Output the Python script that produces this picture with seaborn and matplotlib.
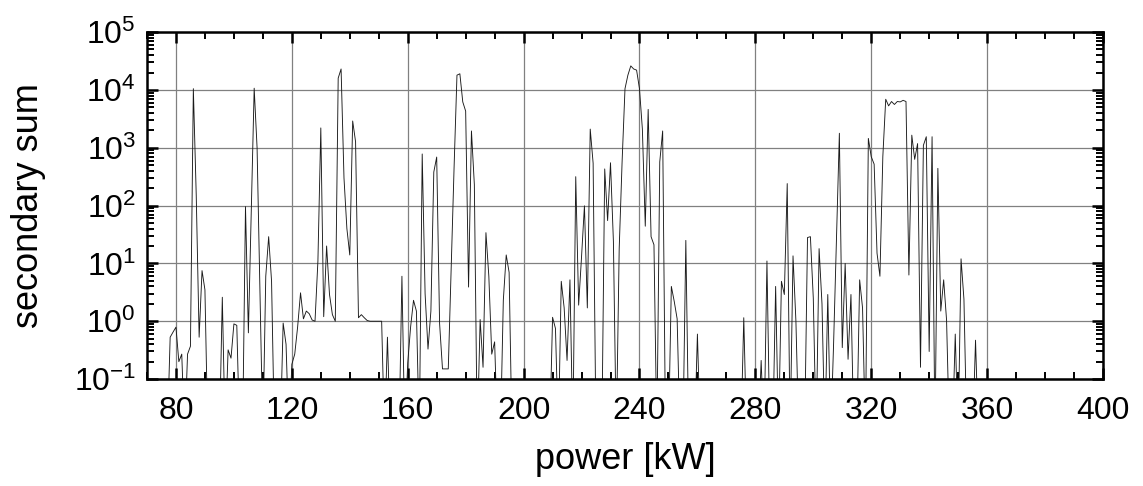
import matplotlib
matplotlib.use("Agg")
import matplotlib.pyplot as plt
import matplotlib.ticker as ticker
import seaborn as sns
import pandas as pd
import numpy as np

# power steps in kW
power = list(range(77, 361))

# secondary sum per kW (0.01 = below the visible range)
secondary = [
    0.01, 0.53, 0.65, 0.79, 0.2, 0.27, 0.01, 0.27, 0.37, 10500,      # 77-86
    150, 0.53, 7.5, 3.5, 0.01, 0.01, 0.01, 0.01, 0.01, 2.6,          # 87-96
    0.01, 0.32, 0.23, 0.9, 0.85, 0.01, 0.01, 96, 0.63, 80,           # 97-106
    10700, 1000, 3, 0.01, 6, 29, 4.9, 0.01, 0.01, 0.01,              # 107-116
    0.93, 0.4, 0.01, 0.18, 0.27, 0.8, 3.1, 1.1, 1.5, 1.35,           # 117-126
    1.05, 1.0, 11, 2200, 1.2, 20, 2.9, 1.3, 1.0, 16000,              # 127-136
    23000, 300, 40, 14, 2900, 1270, 1.15, 1.3, 1.15, 1.03,           # 137-146
    1.0, 1.0, 1.0, 1.0, 1.0, 0.01, 0.53, 0.01, 0.01, 0.01,           # 147-156
    0.01, 6, 0.01, 0.19, 0.8, 2.3, 1.5, 0.01, 780, 3,                # 157-166
    0.33, 1.5, 380, 690, 0.92, 0.15, 0.15, 0.15, 8, 450,             # 167-176
    18000, 19000, 6200, 4300, 3.9, 1950, 230, 0.01, 1.07, 0.16,      # 177-186
    34, 6, 0.27, 0.44, 0.01, 0.01, 2.3, 14, 7, 0.01,                 # 187-196
    0.01, 0.01, 0.01, 0.01, 0.01, 0.01, 0.01, 0.01, 0.01, 0.01,      # 197-206
    0.01, 0.01, 0.01, 1.17, 0.75, 0.01, 4.9, 1.7, 0.21, 5.2,         # 207-216
    0.01, 316, 1.9, 13, 99, 1.7, 2100, 540, 0.01, 0.01,              # 217-226
    0.01, 430, 55, 550, 24, 0.01, 18, 570, 10500, 18000,             # 227-236
    26000, 23000, 22000, 10500, 2100, 44, 4600, 29, 21, 0.01,        # 237-246
    570, 1950, 0.01, 0.01, 4, 2.2, 1.1, 0.01, 0.01, 25,              # 247-256
    0.01, 0.01, 0.01, 0.6, 0.01, 0.01, 0.01, 0.01, 0.01, 0.01,       # 257-266
    0.01, 0.01, 0.01, 0.01, 0.01, 0.01, 0.01, 0.01, 0.01, 1.15,      # 267-276
    0.01, 0.01, 0.01, 0.01, 0.01, 0.21, 0.01, 11, 0.01, 0.01,        # 277-286
    4, 0.01, 4.9, 2.9, 240, 0.01, 13.5, 1.0, 0.01, 0.01,             # 287-296
    0.01, 28, 29, 2.5, 0.01, 18, 2, 0.01, 2.9, 0.01,                 # 297-306
    0.4, 28, 1780, 0.35, 10, 0.22, 2.9, 0.01, 0.01, 5.2,             # 307-316
    1.7, 0.01, 1450, 700, 520, 15, 6, 700, 6900, 5300,               # 317-326
    6300, 5600, 6300, 6200, 6600, 6300, 6.3, 1650, 630, 1180,        # 327-336
    0.16, 1100, 1550, 0.3, 1550, 0.01, 440, 1.5, 5.2, 1.05,          # 337-346
    0.01, 0.01, 0.6, 0.01, 12, 2.4, 0.01, 0.01, 0.01, 0.47,          # 347-356
    0.01, 0.01, 0.01, 0.01,                                          # 357-360
]

df = pd.DataFrame({"power": power, "secondary": secondary})

sns.set_style("ticks")
plt.rcParams['font.family'] = ['Liberation Sans', 'DejaVu Sans']
plt.rcParams['axes.unicode_minus'] = False
plt.rcParams['text.color'] = 'black'
plt.rcParams['axes.labelcolor'] = 'black'
plt.rcParams['xtick.color'] = 'black'
plt.rcParams['ytick.color'] = 'black'

fig = plt.figure(figsize=(11.43, 4.86), dpi=100)
ax = fig.add_axes([0.1286, 0.22, 0.8364, 0.714])

sns.lineplot(data=df, x="power", y="secondary", color="#1a1a1a", lw=0.65, ax=ax)
ax.set_yscale("log")
ax.set_xlim(70, 400)
ax.set_ylim(0.1, 1e5)

ax.xaxis.set_major_locator(ticker.MultipleLocator(40))
ax.xaxis.set_minor_locator(ticker.MultipleLocator(10))
ax.yaxis.set_major_locator(ticker.LogLocator(base=10, numticks=10))
ax.yaxis.set_minor_locator(ticker.LogLocator(base=10, subs=np.arange(2, 10), numticks=20))
ax.yaxis.set_minor_formatter(ticker.NullFormatter())

ax.grid(True, which="major", color="#808080", lw=0.9)
ax.tick_params(which="both", direction="in", top=True, right=True, labelsize=23,
               colors="black")
ax.tick_params(which="major", length=8, width=1.8)
ax.tick_params(which="minor", length=5, width=1.4)
ax.tick_params(axis="x", which="major", pad=12)
ax.tick_params(axis="y", which="major", pad=8)
for s in ax.spines.values():
    s.set_linewidth(1.8)
    s.set_color("black")

ax.set_xlabel("power [kW]", fontsize=26, labelpad=12)
ax.set_ylabel("secondary sum", fontsize=26, labelpad=20)

fig.savefig("out.png", dpi=100)
